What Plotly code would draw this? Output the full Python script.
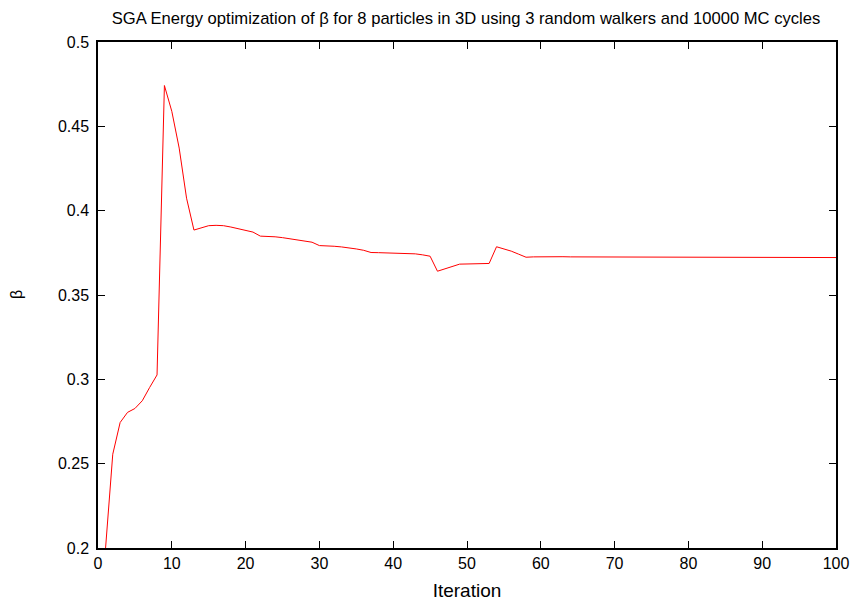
import plotly.graph_objects as go

iterations = list(range(1, 101))
beta = [
    0.1985, 0.2556, 0.2744, 0.2804, 0.2827, 0.2873, 0.2952, 0.3026, 0.4742, 0.4589,
    0.4371, 0.4074, 0.3885, 0.3899, 0.3911, 0.3913, 0.3911, 0.3903, 0.3893, 0.3881,
    0.3873, 0.3849, 0.3848, 0.3845, 0.3840, 0.3833, 0.3826, 0.3820, 0.3813, 0.3793,
    0.3792, 0.3789, 0.3785, 0.3780, 0.3773, 0.3765, 0.3752, 0.3751, 0.3750, 0.3749,
    0.3748, 0.3746, 0.3744, 0.3738, 0.3730, 0.3641, 0.3655, 0.3669, 0.3683, 0.3684,
    0.3685, 0.3686, 0.3687, 0.3786, 0.3774, 0.3760, 0.3742, 0.3724, 0.3726, 0.3727,
    0.3728, 0.3727, 0.3727, 0.3726, 0.3726, 0.3726, 0.3726, 0.3725, 0.3725, 0.3725,
    0.3725, 0.3725, 0.3725, 0.3724, 0.3724, 0.3724, 0.3724, 0.3724, 0.3724, 0.3724,
    0.3723, 0.3723, 0.3723, 0.3723, 0.3723, 0.3723, 0.3723, 0.3723, 0.3723, 0.3722,
    0.3722, 0.3722, 0.3722, 0.3722, 0.3722, 0.3722, 0.3722, 0.3722, 0.3722, 0.3722,
]

title_text = "SGA Energy optimization of β for 8 particles in 3D using 3 random walkers and 10000 MC cycles"

fig = go.Figure()
fig.add_trace(go.Scatter(x=iterations, y=beta, mode="lines",
                         line=dict(color="#ff0000", width=1), showlegend=False))

axis_common = dict(showline=True, linecolor="black", linewidth=1.5, mirror="ticks",
                   ticks="inside", ticklen=7, tickcolor="black", tickwidth=1,
                   showgrid=False, zeroline=False, automargin=False,
                   tickfont=dict(family="Liberation Sans, Arial", size=16, color="black"))

fig.update_layout(
    width=854, height=601,
    margin=dict(l=98, r=18, t=42, b=53),
    paper_bgcolor="white", plot_bgcolor="white",
    font=dict(family="Liberation Sans, Arial", size=16, color="black"),
    title=dict(text=title_text, x=466 / 854, xanchor="center", y=1 - 18 / 601,
               yanchor="middle", font=dict(size=16.6)),
    xaxis=dict(range=[0, 100], tickvals=list(range(0, 101, 10)),
               title=dict(text="Iteration", standoff=13), **axis_common),
    yaxis=dict(range=[0.2, 0.5], tickvals=[0.2, 0.25, 0.3, 0.35, 0.4, 0.45, 0.5],
               ticktext=["0.2", "0.25", "0.3", "0.35", "0.4", "0.45", "0.5"],
               ticklabelstandoff=4, **axis_common),
    annotations=[dict(text="β", xref="paper", yref="paper", x=(16 - 98) / 738, y=0.5,
                      xanchor="center", yanchor="middle", showarrow=False,
                      textangle=-90, font=dict(size=16))],
)

fig.write_html("out.html")
